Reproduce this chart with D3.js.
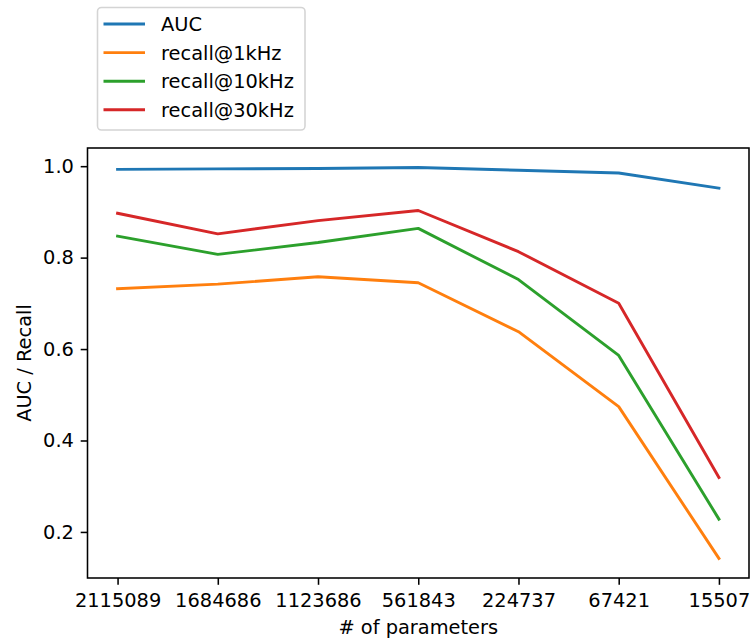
<!DOCTYPE html>
<html>
<head>
<meta charset="utf-8">
<script src="https://cdn.jsdelivr.net/npm/d3@7"></script>
<style>
  body { margin: 0; background: #fff; }
  svg { display: block; }
  svg text { font-family: "DejaVu Sans", sans-serif; font-size: 19.4px; fill: #000; }
  .axis path, .axis line { stroke: #000; stroke-width: 1.55px; }
  .series { fill: none; stroke-width: 2.9px; stroke-linejoin: round; stroke-linecap: square; }
</style>
</head>
<body>
<script>
var params = ["2115089", "1684686", "1123686", "561843", "224737", "67421", "15507"];
var auc = [0.993, 0.994, 0.995, 0.997, 0.991, 0.985, 0.952];
var recall1k = [0.732, 0.742, 0.758, 0.745, 0.638, 0.474, 0.142];
var recall10k = [0.847, 0.807, 0.833, 0.864, 0.752, 0.586, 0.228];
var recall30k = [0.897, 0.852, 0.881, 0.903, 0.813, 0.700, 0.319];
var seriesNames = ["AUC", "recall@1kHz", "recall@10kHz", "recall@30kHz"];
var seriesColors = ["#1f77b4", "#ff7f0e", "#2ca02c", "#d62728"];
var yTicks = [0.2, 0.4, 0.6, 0.8, 1.0];

var W = 751, H = 638;
var plotL = 87.5, plotR = 749, plotT = 148, plotB = 578;

var svg = d3.select("body").append("svg")
    .attr("width", W)
    .attr("height", H);

var seriesData = [auc, recall1k, recall10k, recall30k];

var x = d3.scalePoint()
    .domain(params)
    .range([plotL, plotR])
    .padding(0.3);

var all = d3.merge(seriesData);
var lo = d3.min(all), hi = d3.max(all);
var m = (hi - lo) * 0.05;
var y = d3.scaleLinear()
    .domain([lo - m, hi + m])
    .range([plotB, plotT]);

var line = d3.line()
    .x(function (d, i) { return x(params[i]); })
    .y(function (d) { return y(d); });

for (var s = 0; s < seriesData.length; s++) {
    svg.append("path")
        .attr("class", "series")
        .attr("stroke", seriesColors[s])
        .attr("d", line(seriesData[s]));
}

// frame
svg.append("rect")
    .attr("x", plotL)
    .attr("y", plotT)
    .attr("width", plotR - plotL)
    .attr("height", plotB - plotT)
    .attr("fill", "none")
    .attr("stroke", "#000")
    .attr("stroke-width", 1.55);

var xAxis = svg.append("g")
    .attr("class", "axis")
    .attr("transform", "translate(0," + plotB + ")")
    .call(d3.axisBottom(x).tickSize(6.8).tickPadding(6.8).tickSizeOuter(0));
xAxis.select(".domain").remove();
xAxis.selectAll("text").attr("dy", "0.78em");

var yAxis = svg.append("g")
    .attr("class", "axis")
    .attr("transform", "translate(" + plotL + ",0)")
    .call(d3.axisLeft(y).tickValues(yTicks).tickFormat(d3.format(".1f")).tickSize(6.8).tickPadding(6.8).tickSizeOuter(0));
yAxis.select(".domain").remove();

svg.append("text")
    .attr("x", (plotL + plotR) / 2)
    .attr("y", 634)
    .attr("text-anchor", "middle")
    .text("# of parameters");

svg.append("text")
    .attr("transform", "translate(31," + ((plotT + plotB) / 2) + ") rotate(-90)")
    .attr("text-anchor", "middle")
    .text("AUC / Recall");

// legend
var legend = svg.append("g");
legend.append("rect")
    .attr("x", 97.5)
    .attr("y", 7.5)
    .attr("width", 207.5)
    .attr("height", 122.5)
    .attr("rx", 4)
    .attr("fill", "#fff")
    .attr("stroke", "#d4d4d4")
    .attr("stroke-width", 1.55);

for (var j = 0; j < seriesNames.length; j++) {
    var ly = 24 + j * 28.6;
    legend.append("line")
        .attr("x1", 103.5)
        .attr("x2", 145)
        .attr("y1", ly)
        .attr("y2", ly)
        .attr("stroke", seriesColors[j])
        .attr("stroke-width", 2.9);
    legend.append("text")
        .attr("x", 161)
        .attr("y", ly + 7)
        .text(seriesNames[j]);
}
</script>
</body>
</html>
